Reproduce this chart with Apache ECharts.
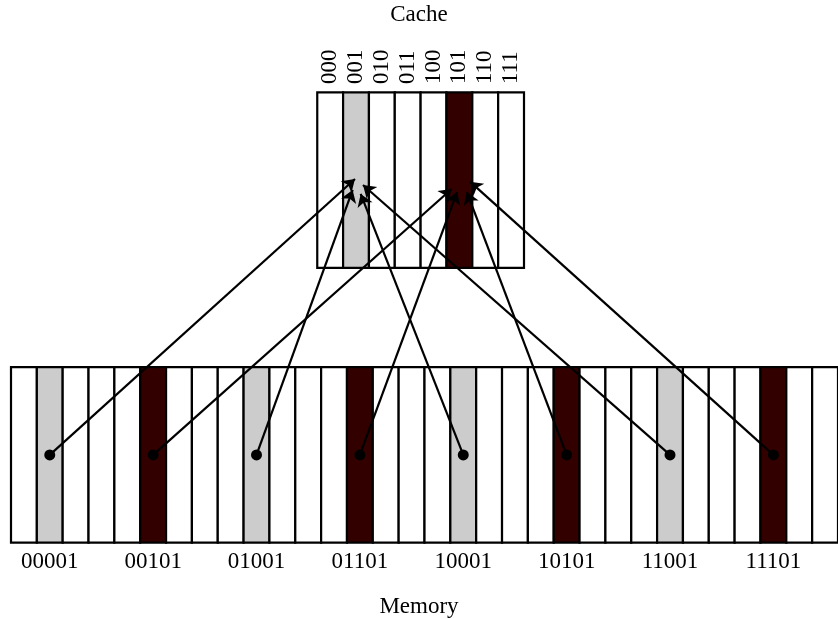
<!DOCTYPE html>
<html>
<head>
<meta charset="utf-8">
<script src="https://cdn.jsdelivr.net/npm/echarts@6/dist/echarts.min.js"></script>
<style>html,body{margin:0;padding:0;background:#fff}#c{width:838px;height:619px}</style>
</head>
<body>
<div id="c"></div>
<script>
// ---- data ----
const cacheLabels = ['000','001','010','011','100','101','110','111'];
const cacheFill   = [0,1,0,0,0,2,0,0];            // 0 white, 1 gray, 2 dark
const memoryFill  = [0,1,0,0,0,2,0,0, 0,1,0,0,0,2,0,0,
                     0,1,0,0,0,2,0,0, 0,1,0,0,0,2,0,0];
const memoryLabels = ['00001','00101','01001','01101','10001','10101','11001','11101'];
const memoryLabelCells = [1,5,9,13,17,21,25,29];
const arrowTipX = [13.31,17.05,13.22,17.26,13.53,17.64,13.62,17.76];
const arrowTipY = [2.071,2.014,2.009,1.997,1.986,1.997,2.037,2.056];
const titleTop = 'Cache';
const titleBottom = 'Memory';

// ---- layout ----
const fillColors = ['#ffffff','#cccccc','#330000'];
const cacheX0 = 11.85, cacheY0 = 1.565, boxH = 1, dotY = 0.5;
const FONT = 'Liberation Serif';
const FS = 23;

const cellData = [];
memoryFill.forEach((f,i)=>cellData.push([i, 0, f]));
cacheFill.forEach((f,i)=>cellData.push([cacheX0 + i, cacheY0, f]));

const linesData = memoryLabelCells.map((c,i)=>({coords:[[c+0.5, dotY],[arrowTipX[i], arrowTipY[i]]]}));
const dotData = memoryLabelCells.map(c=>[c+0.5, dotY]);
const memLabelData = memoryLabelCells.map((c,i)=>[c+0.5, -0.11, memoryLabels[i]]);
const cacheLabelData = cacheLabels.map((l,i)=>[cacheX0 + i + 0.5, 2.612, l]);

const chart = echarts.init(document.getElementById('c'), null, {renderer:'canvas'});
chart.setOption({
  animation:false,
  backgroundColor:'#fff',
  title:[
    {text:titleTop, left:'center', top:3, padding:0, textStyle:{fontFamily:FONT,fontWeight:'normal',fontSize:FS,color:'#000'}},
    {text:titleBottom, left:'center', top:595, padding:0, textStyle:{fontFamily:FONT,fontWeight:'normal',fontSize:FS,color:'#000'}}
  ],
  grid:{left:11, right:0, top:92.3, bottom:76.3},
  xAxis:{type:'value', min:0, max:32, show:false},
  yAxis:{type:'value', min:0, max:2.565, show:false},
  series:[
    {
      type:'custom', clip:false, z:1,
      data:cellData,
      renderItem:function(params, api){
        const p0 = api.coord([api.value(0), api.value(1)+boxH]);
        const p1 = api.coord([api.value(0)+1, api.value(1)]);
        return {type:'rect', shape:{x:p0[0], y:p0[1], width:p1[0]-p0[0], height:p1[1]-p0[1]},
          style:{fill:fillColors[api.value(2)], stroke:'#000', lineWidth:2.2}};
      }
    },
    {
      type:'lines', coordinateSystem:'cartesian2d', z:3,
      symbol:['none','arrow'], symbolSize:[9,12],
      lineStyle:{color:'#000', width:2.2, opacity:1},
      data:linesData
    },
    {
      type:'scatter', z:4, symbol:'circle', symbolSize:11,
      itemStyle:{color:'#000', opacity:1}, data:dotData
    },
    {
      type:'custom', clip:false, z:5,
      data:memLabelData,
      renderItem:function(params, api){
        const p = api.coord([api.value(0), api.value(1)]);
        return {type:'text', x:p[0], y:p[1], style:{text:memLabelData[params.dataIndex][2], align:'center', verticalAlign:'middle', font:FS+'px "'+FONT+'"', fill:'#000'}};
      }
    },
    {
      type:'custom', clip:false, z:5,
      data:cacheLabelData,
      renderItem:function(params, api){
        const p = api.coord([api.value(0), api.value(1)]);
        return {type:'text', x:p[0], y:p[1], rotation:Math.PI/2, style:{text:cacheLabelData[params.dataIndex][2], align:'left', verticalAlign:'middle', font:FS+'px "'+FONT+'"', fill:'#000'}};
      }
    }
  ]
});
</script>
</body>
</html>
